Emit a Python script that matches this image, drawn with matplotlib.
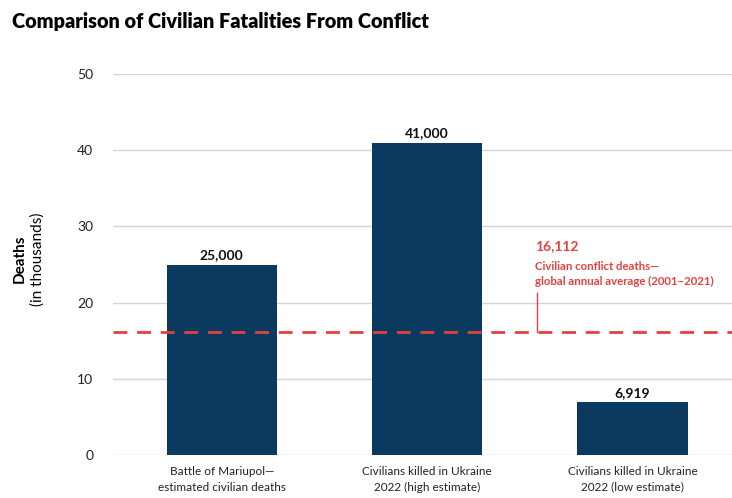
import matplotlib
matplotlib.use("Agg")
import matplotlib.pyplot as plt

# 数据
categories = ["Battle of Mariupol—\nestimated civilian deaths",
              "Civilians killed in Ukraine\n2022 (high estimate)",
              "Civilians killed in Ukraine\n2022 (low estimate)"]
deaths = [25000, 41000, 6919]
global_avg = 16112
yticks = [0, 10, 20, 30, 40, 50]

navy = "#0a3a60"
red = "#e5403f"

plt.rcParams['font.family'] = ['Lato', 'DejaVu Sans']

fig = plt.figure(figsize=(7.32, 4.98), dpi=100)
ax = fig.add_axes([0.154, 0.0863, 0.846, 0.7651])

vals = [d / 1000 for d in deaths]
xs = list(range(len(categories)))
ax.bar(xs, vals, width=0.538, color=navy, zorder=3)

for x, v, d in zip(xs, vals, deaths):
    ax.text(x, v + 1.2, f"{d:,}", ha='center', va='center', fontsize=10,
            fontweight='bold', color='#111111')

avg = global_avg / 1000
ax.axhline(avg, color=red, linestyle=(0, (5, 3.5)), linewidth=2, zorder=4)

# 注释
ax_x = 1.535
ax.plot([ax_x, ax_x], [avg, 21.3], color=red, linewidth=1, zorder=4)
ax.text(ax_x - 0.01, 27.4, f"{global_avg:,}", color=red, fontsize=10,
        fontweight='bold', ha='left', va='center')
ax.text(ax_x - 0.01, 24.8, "Civilian conflict deaths—", color=red, fontsize=8.2,
        fontweight='bold', ha='left', va='center')
ax.text(ax_x - 0.01, 22.8, "global annual average (2001–2021)", color=red, fontsize=8.2,
        fontweight='bold', ha='left', va='center')

ax.set_ylim(0, 50)
ax.set_xlim(-0.531, 2.485)
ax.set_yticks(yticks)
ax.set_yticklabels([str(t) for t in yticks], fontsize=10, color='#222222')
ax.set_xticks(xs)
ax.set_xticklabels(categories, fontsize=8.5, color='#222222', linespacing=1.5)
ax.tick_params(axis='both', length=0)
ax.tick_params(axis='y', pad=14)
ax.tick_params(axis='x', pad=8)
ax.grid(axis='y', color='#d5d5d5', linewidth=1, zorder=0)
for s in ax.spines.values():
    s.set_visible(False)

fig.text(0.027, 0.48, "Deaths", rotation=90, fontsize=11, fontweight='bold',
         ha='center', va='center')
fig.text(0.051, 0.48, "(in thousands)", rotation=90, fontsize=11,
         ha='center', va='center')

fig.text(0.016, 0.957, "Comparison of Civilian Fatalities From Conflict",
         fontsize=14.3, fontweight='heavy', ha='left', va='center')

fig.savefig("out.png", dpi=100)
